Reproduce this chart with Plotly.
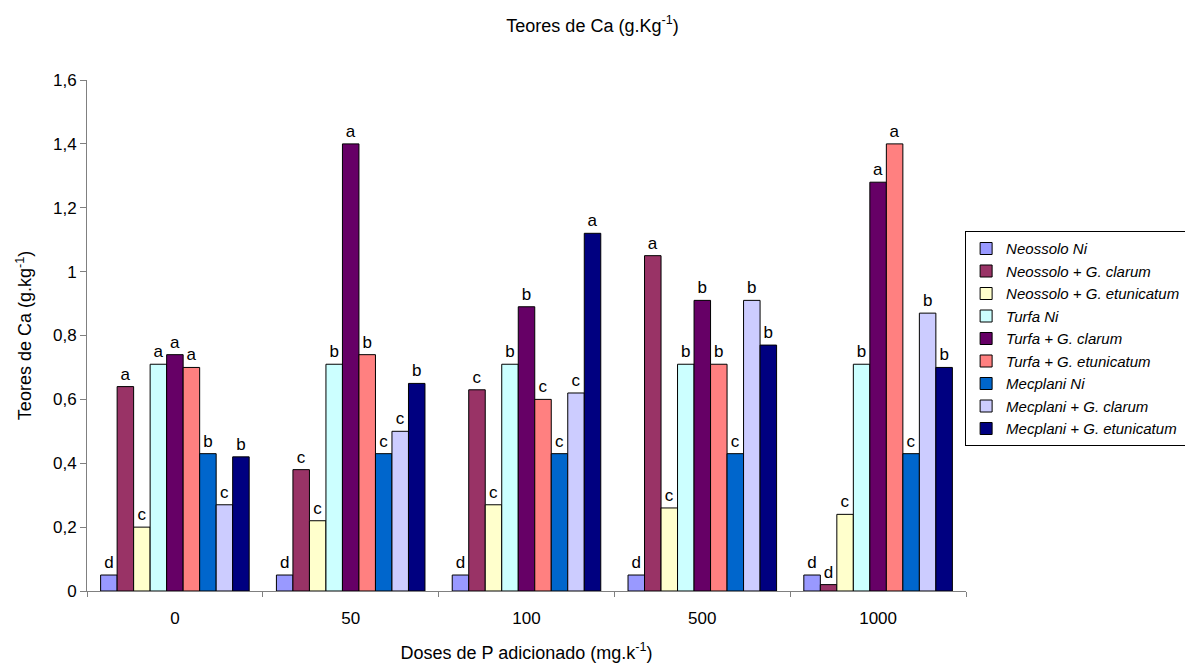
import plotly.graph_objects as go

doses = ["0", "50", "100", "500", "1000"]

series_names = [
    "Neossolo Ni",
    "Neossolo + G. clarum",
    "Neossolo + G. etunicatum",
    "Turfa Ni",
    "Turfa + G. clarum",
    "Turfa + G. etunicatum",
    "Mecplani Ni",
    "Mecplani + G. clarum",
    "Mecplani + G. etunicatum",
]

neossolo_ni = [0.05, 0.05, 0.05, 0.05, 0.05]
neossolo_clarum = [0.64, 0.38, 0.63, 1.05, 0.02]
neossolo_etunicatum = [0.20, 0.22, 0.27, 0.26, 0.24]
turfa_ni = [0.71, 0.71, 0.71, 0.71, 0.71]
turfa_clarum = [0.74, 1.40, 0.89, 0.91, 1.28]
turfa_etunicatum = [0.70, 0.74, 0.60, 0.71, 1.40]
mecplani_ni = [0.43, 0.43, 0.43, 0.43, 0.43]
mecplani_clarum = [0.27, 0.50, 0.62, 0.91, 0.87]
mecplani_etunicatum = [0.42, 0.65, 1.12, 0.77, 0.70]

letters = [
    ["d", "d", "d", "d", "d"],
    ["a", "c", "c", "a", "d"],
    ["c", "c", "c", "c", "c"],
    ["a", "b", "b", "b", "b"],
    ["a", "a", "b", "b", "a"],
    ["a", "b", "c", "b", "a"],
    ["b", "c", "c", "c", "c"],
    ["c", "c", "c", "b", "b"],
    ["b", "b", "a", "b", "b"],
]

values = [
    neossolo_ni, neossolo_clarum, neossolo_etunicatum,
    turfa_ni, turfa_clarum, turfa_etunicatum,
    mecplani_ni, mecplani_clarum, mecplani_etunicatum,
]

colors = [
    "#9999FF", "#993366", "#FFFFCC",
    "#CCFFFF", "#660066", "#FF8080",
    "#0066CC", "#CCCCFF", "#000080",
]

FONT = "Liberation Sans, Arial, sans-serif"
AXIS_GREY = "#808080"

fig = go.Figure()
for name, vals, lab, col in zip(series_names, values, letters, colors):
    fig.add_trace(go.Bar(
        name="<i>" + name + "</i>",
        x=doses,
        y=vals,
        text=lab,
        textposition="outside",
        textfont=dict(family=FONT, size=17, color="black"),
        cliponaxis=False,
        marker=dict(color=col, line=dict(color="black", width=1)),
    ))

fig.update_layout(
    width=1185,
    height=664,
    barmode="group",
    bargap=0.155,
    bargroupgap=0,
    plot_bgcolor="white",
    paper_bgcolor="white",
    margin=dict(l=87, r=219, t=80, b=73, autoexpand=False),
    font=dict(family=FONT, size=17, color="black"),
    title=dict(
        text="Teores de Ca (g.Kg<sup>-1</sup>)",
        x=0.5, xanchor="center", y=0.962, yanchor="middle",
        font=dict(family=FONT, size=18, color="black"),
    ),
    showlegend=True,
    legend=dict(
        x=0.999, xanchor="left", y=0.704, yanchor="top",
        bordercolor="black", borderwidth=1,
        bgcolor="white",
        itemwidth=30,
        font=dict(family=FONT, size=15, color="black"),
        tracegroupgap=0,
    ),
)

fig.update_xaxes(
    type="category",
    showline=True, linecolor=AXIS_GREY, linewidth=1,
    ticks="outside", ticklen=5, tickcolor=AXIS_GREY,
    tickson="boundaries",
    ticklabelstandoff=12,
    showgrid=False,
    automargin=False,
    tickfont=dict(family=FONT, size=17),
    title=dict(text="Doses de P adicionado (mg.k<sup>-1</sup>)",
               font=dict(family=FONT, size=18), standoff=18),
)

tick_vals = [0, 0.2, 0.4, 0.6, 0.8, 1.0, 1.2, 1.4, 1.6]
tick_text = ["0", "0,2", "0,4", "0,6", "0,8", "1", "1,2", "1,4", "1,6"]

fig.update_yaxes(
    range=[0, 1.6],
    tickvals=tick_vals, ticktext=tick_text,
    showline=True, linecolor=AXIS_GREY, linewidth=1,
    ticks="outside", ticklen=6, tickcolor=AXIS_GREY,
    showgrid=False, zeroline=False,
    automargin=False,
    tickfont=dict(family=FONT, size=17),
    title=dict(text="Teores de Ca (g.kg<sup>-1</sup>)",
               font=dict(family=FONT, size=18), standoff=16),
)

fig.write_html("out.html")
